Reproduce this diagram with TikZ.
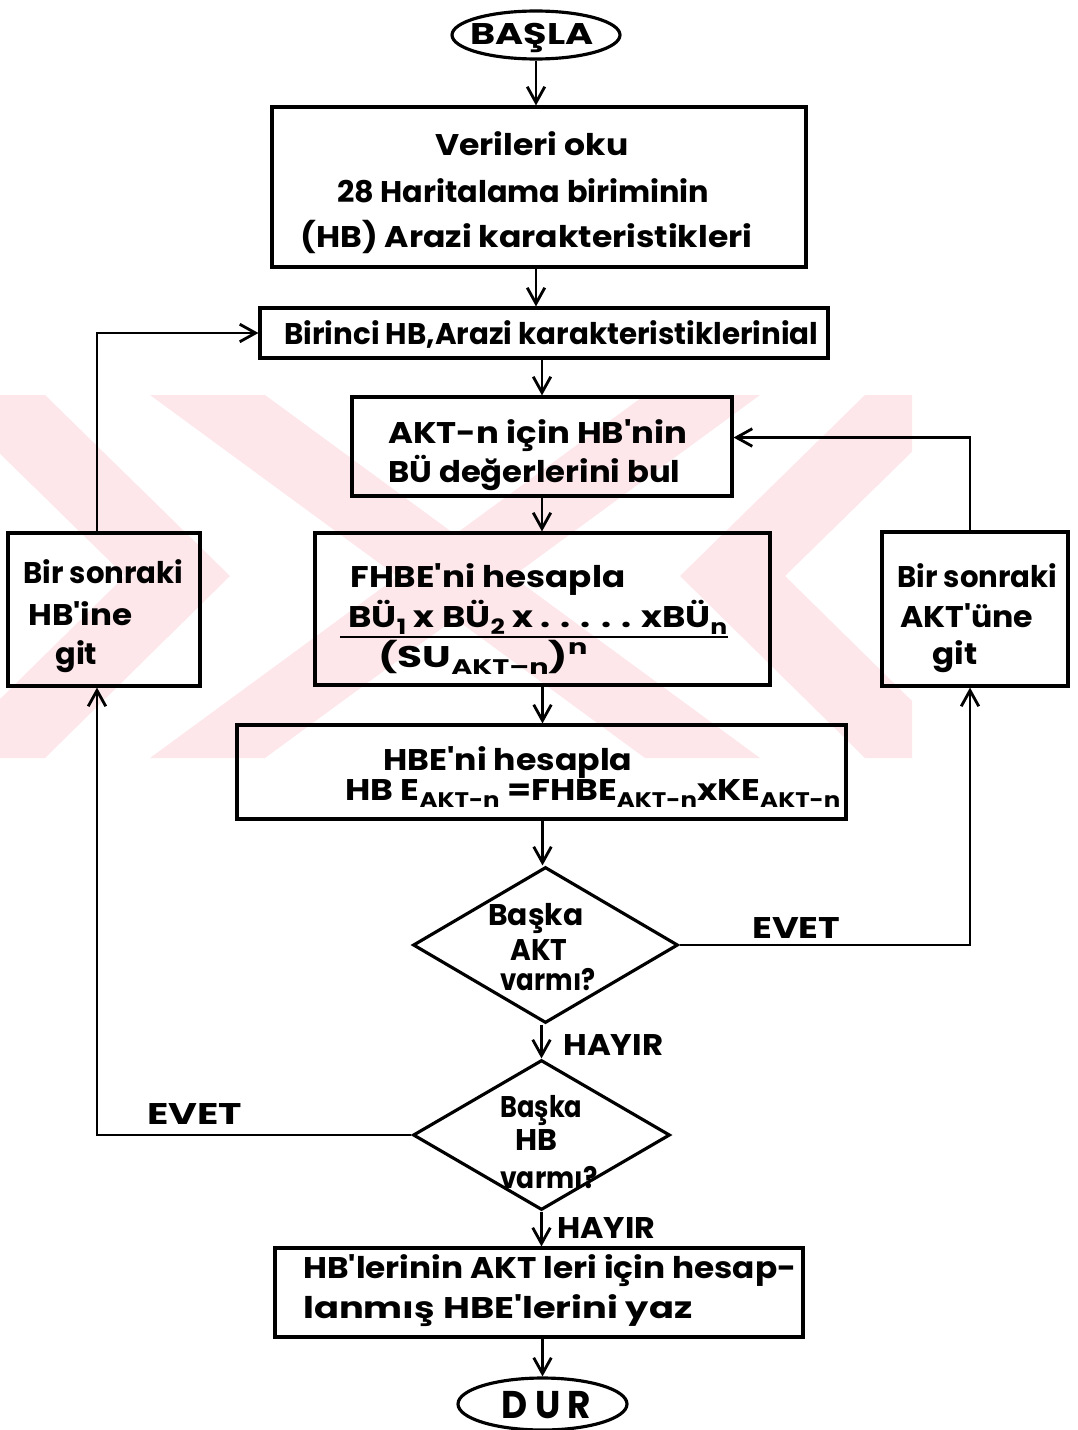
\documentclass[tikz,border=0pt]{standalone}
\usepackage{fontspec}
\setmainfont{Poppins}
\usepackage{graphicx}
\usetikzlibrary{shapes.geometric,arrows.meta,fit}
\newdimen\pxu \pxu=0.02cm
\newcommand\tw[2]{\resizebox{#1\pxu}{\height}{#2}}
\newcommand\lsub[1]{\raisebox{-0.45ex}{\fontsize{12}{12}\selectfont #1}}
\newcommand\lsup[1]{\raisebox{0.75ex}{\fontsize{12}{12}\selectfont #1}}
\newcommand\ap{\textquotesingle}
\definecolor{wm}{RGB}{253,231,235}
\begin{document}
\begin{tikzpicture}[x=0.02cm,y=-0.02cm,
  font=\fontsize{17}{20}\selectfont,
  box/.style={draw, line width=1.8pt, inner sep=0pt},
  term/.style={draw, ellipse, line width=1.8pt, inner sep=0pt},
  dec/.style={draw, diamond, line width=1.8pt, inner sep=0pt},
  txt/.style={inner sep=0pt, anchor=base west, font=\fontsize{17}{20}\selectfont\bfseries},
  btxt/.style={inner sep=0pt, anchor=base west, font=\fontsize{17}{20}\selectfont\bfseries},
  ln/.style={line width=1.6pt},
  arr/.style={line width=1.6pt, -{Straight Barb[length=9pt,width=10pt]}}]
\useasboundingbox (0,0) rectangle (1078,1430);
% watermark
\begin{scope}
\clip (0,395) rectangle (912,758);
\fill[wm] (-60,395) -- (45,395) -- (230,576) -- (45,758) -- (-60,758) -- (125,576) -- cycle;
\fill[wm] (970,395) -- (865,395) -- (680,576) -- (865,758) -- (970,758) -- (785,576) -- cycle;
\fill[wm] (150,395) -- (265,395) -- (760,758) -- (645,758) -- cycle;
\fill[wm] (645,395) -- (760,395) -- (265,758) -- (150,758) -- cycle;
\end{scope}
% nodes
\node[term, minimum width=3.36cm, minimum height=0.96cm] (st) at (536,35) {};
\node[txt] (tst) at (470,45) {\tw{123}{BAŞLA}};
\node[box, fit={(272,107) (806,267)}] (b1) {};
\node[txt] (t1a) at (435,155) {\tw{193}{Verileri oku}};
\node[txt] (t1b) at (337,202) {\tw{372}{28 Haritalama biriminin}};
\node[txt] (t1c) at (300,247) {\tw{452}{(HB) Arazi karakteristikleri}};
\node[box, fit={(260,308) (828,358)}] (b2) {};
\node[txt] (t2) at (284,344) {\tw{534}{Birinci HB,Arazi karakteristiklerinial}};
\node[box, fit={(352,397) (732,496)}] (b3) {};
\node[txt] (t3a) at (388,443) {\tw{299}{AKT-n için HB\ap nin}};
\node[txt] (t3b) at (388,482) {\tw{292}{BÜ değerlerini bul}};
\node[box, fit={(315,533) (770,685)}] (b4) {};
\node[txt] (t4a) at (350,587) {\tw{275}{FHBE\ap ni hesapla}};
\node[txt] (t4b) at (348,627) {\tw{379}{BÜ\lsub{1} x BÜ\lsub{2} x . . . . . xBÜ\lsub{\underline{n}}}};
\node[txt] (t4c) at (378,667) {\tw{209}{(SU\lsub{AKT–n})\lsup{n}}};
\coordinate (barL) at (340,637);
\coordinate (barR) at (728,637);
\draw[ln] (barL) -- (barR);
\node[box, fit={(237,725) (846,819)}] (b5) {};
\node[btxt] (t5a) at (383,770) {\tw{249}{HBE\ap ni hesapla}};
\node[btxt] (t5b) at (345,800) {\tw{495}{HB E\lsub{AKT-n} =FHBE\lsub{AKT-n}xKE\lsub{AKT-n}}};
\node[dec, minimum width=5.3cm, minimum height=3.12cm] (d1) at (545.5,945) {};
\node[btxt] (t6a) at (488,925) {\tw{95}{Başka}};
\node[btxt] (t6b) at (510,960) {\tw{57}{AKT}};
\node[btxt] (t6c) at (500,990) {\tw{95}{varmı?}};
\node[dec, minimum width=5.14cm, minimum height=3.0cm] (d2) at (541.5,1135) {};
\node[btxt] (t7a) at (500,1117) {\tw{82}{Başka}};
\node[btxt] (t7b) at (515,1150) {\tw{42}{HB}};
\node[btxt] (t7c) at (500,1188) {\tw{97}{varmı?}};
\node[box, fit={(8,533) (200,686)}] (lb) {};
\node[txt] (tla) at (23,583) {\tw{160}{Bir sonraki}};
\node[txt] (tlb) at (28,625) {\tw{104}{HB\ap ine}};
\node[txt] (tlc) at (55,664) {\tw{42}{git}};
\node[box, fit={(882,532) (1068,686)}] (rb) {};
\node[txt] (tra) at (897,587) {\tw{160}{Bir sonraki}};
\node[txt] (trb) at (900,627) {\tw{133}{AKT\ap üne}};
\node[txt] (trc) at (932,664) {\tw{45}{git}};
\node[box, fit={(275,1248) (803,1337)}] (b6) {};
\node[btxt] (t8a) at (303,1278) {\tw{493}{HB\ap lerinin AKT leri için hesap-}};
\node[btxt] (t8b) at (303,1318) {\tw{389}{lanmış HBE\ap lerini yaz}};
\node[term, minimum width=3.38cm, minimum height=1.04cm] (sp) at (542.5,1404) {};
\node[btxt, font=\fontsize{22}{24}\selectfont\bfseries] (tsp) at (501,1418) {\tw{90}{D U R}};
\node[btxt] (ev1) at (752,938) {\tw{88}{EVET}};
\node[btxt] (ev2) at (147,1124) {\tw{95}{EVET}};
\node[btxt] (ha1) at (563,1055) {\tw{100}{HAYIR}};
\node[btxt] (ha2) at (557,1238) {\tw{98}{HAYIR}};
% connectors
\draw[arr] (st.south) -- (st.south |- b1.north);
\draw[arr] (st.south |- b1.south) -- (st.south |- b2.north);
\draw[arr] (b3.north |- b2.south) -- (b3.north);
\draw[arr] (b3.south) -- (b3.south |- b4.north);
\draw[arr] (b4.south) -- (b4.south |- b5.north);
\draw[arr] (b4.south |- b5.south) -- (b4.south |- d1.north);
\draw[arr] (d1.south -| d2.north) -- (d2.north);
\draw[arr] (d2.south) -- (d2.south |- b6.north);
\draw[arr] (b6.south -| sp.north) -- (sp.north);
\draw[arr] (d1.east) -| ([xshift=-0.1cm]rb.south);
\draw[arr] ([xshift=-0.1cm]rb.north) |- ([yshift=0.18cm]b3.east);
\draw[arr] (d2.west) -| ([xshift=-0.14cm]lb.south);
\draw[arr] ([xshift=-0.14cm]lb.north) |- (b2.west);
\end{tikzpicture}
\end{document}
